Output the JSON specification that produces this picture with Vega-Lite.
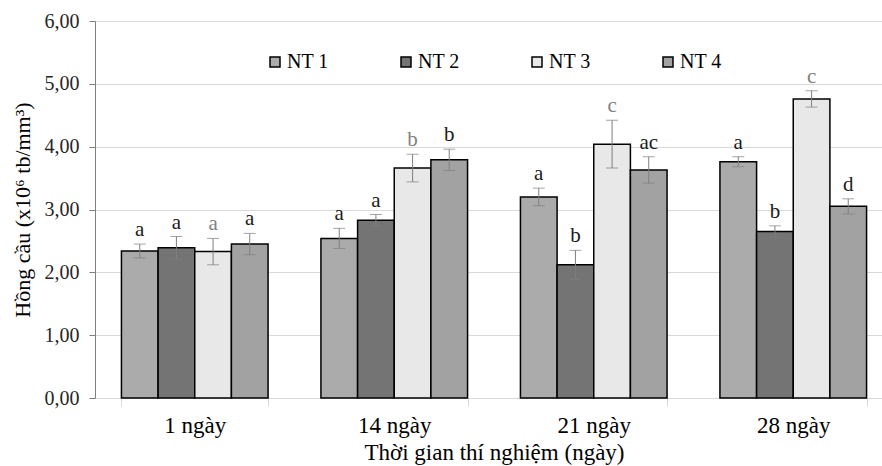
{
  "$schema": "https://vega.github.io/schema/vega-lite/v6.json",
  "width": 798,
  "height": 377,
  "autosize": {"type": "none"},
  "padding": {"left": 95, "top": 21, "right": 0, "bottom": 68},
  "background": "white",
  "config": {
    "view": {"stroke": null},
    "font": "Liberation Serif",
    "axis": {"labelFont": "Liberation Serif", "titleFont": "Liberation Serif"},
    "legend": {"labelFont": "Liberation Serif", "titleFont": "Liberation Serif"},
    "text": {"font": "Liberation Serif"}
  },
  "data": {
    "values": [
      {"time": "1 ngày", "series": "NT 1", "mean": 2.34, "lo": 2.23, "hi": 2.45, "letter": "a"},
      {"time": "1 ngày", "series": "NT 2", "mean": 2.39, "lo": 2.21, "hi": 2.57, "letter": "a"},
      {"time": "1 ngày", "series": "NT 3", "mean": 2.33, "lo": 2.12, "hi": 2.54, "letter": "a"},
      {"time": "1 ngày", "series": "NT 4", "mean": 2.45, "lo": 2.28, "hi": 2.62, "letter": "a"},
      {"time": "14 ngày", "series": "NT 1", "mean": 2.54, "lo": 2.38, "hi": 2.70, "letter": "a"},
      {"time": "14 ngày", "series": "NT 2", "mean": 2.83, "lo": 2.74, "hi": 2.92, "letter": "a"},
      {"time": "14 ngày", "series": "NT 3", "mean": 3.66, "lo": 3.44, "hi": 3.88, "letter": "b"},
      {"time": "14 ngày", "series": "NT 4", "mean": 3.79, "lo": 3.62, "hi": 3.96, "letter": "b"},
      {"time": "21 ngày", "series": "NT 1", "mean": 3.20, "lo": 3.06, "hi": 3.34, "letter": "a"},
      {"time": "21 ngày", "series": "NT 2", "mean": 2.12, "lo": 1.89, "hi": 2.35, "letter": "b"},
      {"time": "21 ngày", "series": "NT 3", "mean": 4.04, "lo": 3.66, "hi": 4.42, "letter": "c"},
      {"time": "21 ngày", "series": "NT 4", "mean": 3.63, "lo": 3.42, "hi": 3.84, "letter": "ac"},
      {"time": "28 ngày", "series": "NT 1", "mean": 3.76, "lo": 3.68, "hi": 3.84, "letter": "a"},
      {"time": "28 ngày", "series": "NT 2", "mean": 2.65, "lo": 2.56, "hi": 2.74, "letter": "b"},
      {"time": "28 ngày", "series": "NT 3", "mean": 4.76, "lo": 4.63, "hi": 4.89, "letter": "c"},
      {"time": "28 ngày", "series": "NT 4", "mean": 3.05, "lo": 2.93, "hi": 3.17, "letter": "d"}
    ]
  },
  "encoding": {
    "x": {
      "field": "time",
      "type": "nominal",
      "sort": ["1 ngày", "14 ngày", "21 ngày", "28 ngày"],
      "scale": {"paddingInner": 0.265, "paddingOuter": 0.1325},
      "axis": {
        "title": "Thời gian thí nghiệm (ngày)",
        "titleFont": "Liberation Serif",
        "titleFontSize": 23,
        "titleFontWeight": "normal",
        "titleColor": "#000000",
        "titlePadding": 4,
        "labelFont": "Liberation Serif",
        "labelFontSize": 23,
        "labelFontWeight": "normal",
        "labelColor": "#000000",
        "labelAngle": 0,
        "labelPadding": 8,
        "domainColor": "#d9d9d9",
        "tickColor": "#d9d9d9",
        "tickSize": 8,
        "tickBand": "extent",
        "grid": false
      }
    },
    "xOffset": {"field": "series", "type": "nominal", "sort": ["NT 1", "NT 2", "NT 3", "NT 4"]}
  },
  "layer": [
    {
      "mark": {"type": "bar", "stroke": "#000000", "strokeWidth": 1.5},
      "encoding": {
        "y": {
          "field": "mean",
          "type": "quantitative",
          "scale": {"domain": [0, 6], "nice": false},
          "axis": {
            "values": [0, 1, 2, 3, 4, 5, 6],
            "labelExpr": "replace(format(datum.value, '.2f'), '.', ',')",
            "title": "Hồng cầu (x10⁶ tb/mm³)",
            "titleFont": "Liberation Serif",
            "titleFontSize": 22,
            "titleFontWeight": "normal",
            "titleColor": "#000000",
            "titlePadding": 10,
            "labelFont": "Liberation Serif",
            "labelFontSize": 20,
            "labelFontWeight": "normal",
            "labelColor": "#262626",
            "labelPadding": 10,
            "domainColor": "#7f7f7f",
            "tickColor": "#7f7f7f",
            "tickSize": 6,
            "gridColor": "#d9d9d9",
            "gridWidth": 1
          }
        },
        "color": {
          "field": "series",
          "type": "nominal",
          "scale": {"domain": ["NT 1", "NT 2", "NT 3", "NT 4"], "range": ["#ababab", "#747474", "#e8e8e8", "#a2a2a2"]},
          "legend": {
            "title": null,
            "orient": "none",
            "legendX": 170,
            "legendY": 31,
            "direction": "horizontal",
            "columns": 4,
            "columnPadding": 67,
            "symbolType": "square",
            "symbolSize": 100,
            "symbolStrokeColor": "#000000",
            "symbolStrokeWidth": 1.5,
            "labelFont": "Liberation Serif",
            "labelFontSize": 20,
            "labelFontWeight": "normal",
            "labelColor": "#000000",
            "labelOffset": 2
          }
        }
      }
    },
    {
      "mark": {"type": "rule", "color": "#7f7f7f", "strokeWidth": 1},
      "encoding": {
        "y": {"field": "lo", "type": "quantitative"},
        "y2": {"field": "hi"}
      }
    },
    {
      "mark": {"type": "tick", "color": "#7f7f7f", "size": 12, "thickness": 1, "orient": "horizontal"},
      "encoding": {"y": {"field": "hi", "type": "quantitative"}}
    },
    {
      "mark": {"type": "tick", "color": "#7f7f7f", "size": 12, "thickness": 1, "orient": "horizontal"},
      "encoding": {"y": {"field": "lo", "type": "quantitative"}}
    },
    {
      "mark": {"type": "text", "font": "Liberation Serif", "fontSize": 21, "baseline": "alphabetic", "dy": -8},
      "encoding": {
        "y": {"field": "hi", "type": "quantitative"},
        "text": {"field": "letter"},
        "color": {"condition": {"test": "datum.series === 'NT 3'", "value": "#7f7f7f"}, "value": "#1a1a1a"}
      }
    }
  ]
}
